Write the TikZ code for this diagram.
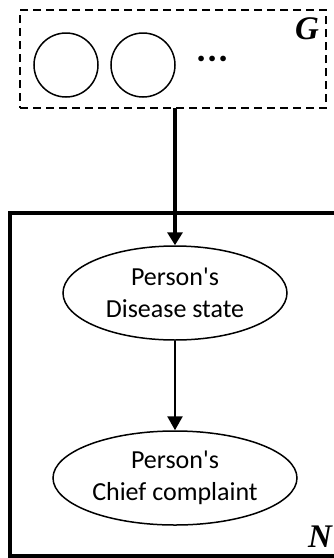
\documentclass[tikz,border=0pt]{standalone}
\usepackage{fontspec}
\setmainfont{Carlito}
\newfontfamily\platefont{Liberation Serif}
\usetikzlibrary{arrows.meta,shapes.geometric}

\tikzset{
  platebox/.style={draw, rectangle, inner sep=0pt, outer sep=0pt},
  groupbox/.style={platebox, line width=2pt, dash pattern=on 8pt off 5pt},
  outerbox/.style={platebox, line width=4pt},
  unitnode/.style={draw, circle, line width=1.5pt, minimum size=64pt, inner sep=0pt},
  varnode/.style={draw, ellipse, line width=1.5pt, inner sep=0pt, align=center,
    font=\fontsize{26}{32}\selectfont},
  platelabel/.style={inner sep=0pt, font=\platefont\fontsize{33}{36}\selectfont\bfseries\itshape},
  thickarrow/.style={line width=4pt, -{Triangle[width=15pt,length=13pt]}},
  thinarrow/.style={line width=2.5pt, -{Triangle[width=15pt,length=14pt]}},
}

\begin{document}
\begin{tikzpicture}[x=1pt, y=-1pt]
  \useasboundingbox (0,0) rectangle (334,558);

  % group plate G with its member units
  \node[groupbox, minimum width=306pt, minimum height=98pt] (g) at (173,59) {};
  \node[unitnode] (u1) at (66,65) {};
  \node[unitnode] (u2) at (143,65) {};
  \node[inner sep=0pt, font=\fontsize{38}{40}\selectfont\bfseries] (more) at (213,59) {.\kern0.8pt.\kern0.8pt.};
  \node[platelabel] (glab) at (307,28.5) {G};

  % person plate N
  \node[outerbox, minimum width=335pt, minimum height=343pt] (n) at (177.5,384.5) {};
  \node[platelabel] (nlab) at (320,536.5) {N};

  % per-person variables
  \node[varnode, minimum width=224pt, minimum height=94pt] (disease) at (175,293) {Person\textquotesingle s\\Disease state};
  \node[varnode, minimum width=244pt, minimum height=94pt] (complaint) at (175,478) {Person\textquotesingle s\\Chief complaint};

  % dependencies
  \draw[thickarrow] (disease.north |- g.south) -- (disease.north);
  \draw[thinarrow] (disease.south) -- (complaint.north);
\end{tikzpicture}
\end{document}
